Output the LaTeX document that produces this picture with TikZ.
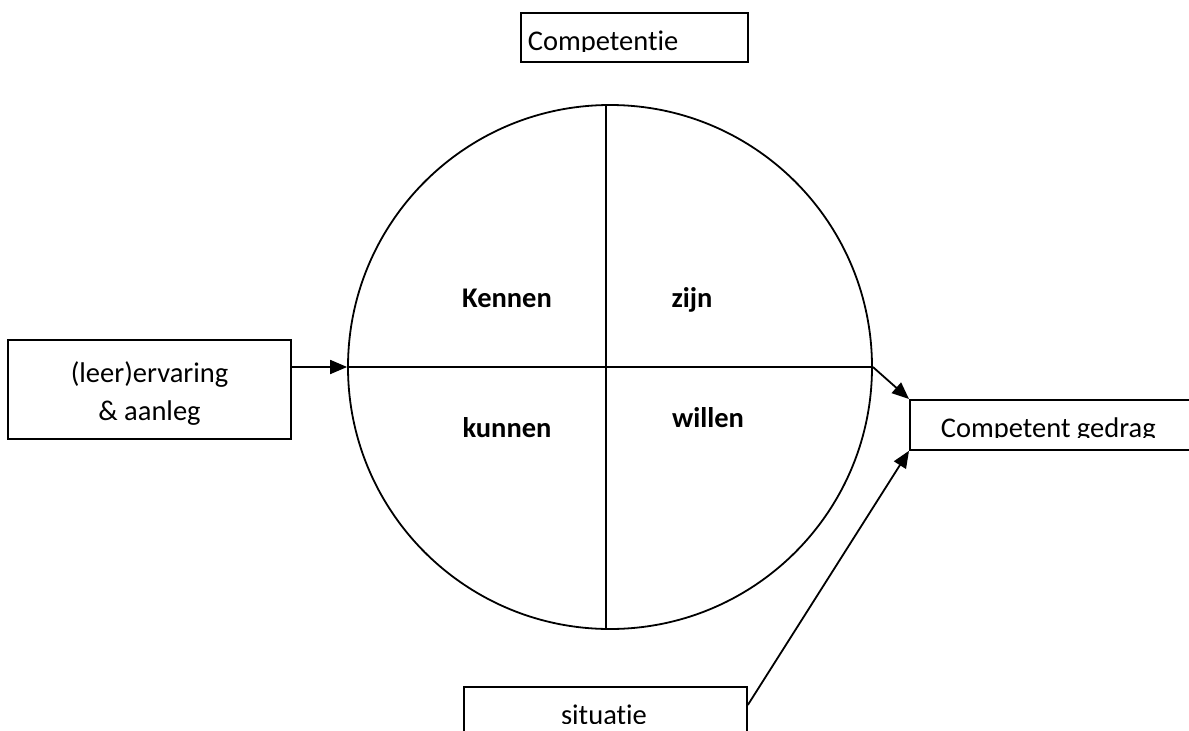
\documentclass[tikz,border=0pt]{standalone}
\usepackage{fontspec}
\setmainfont{Carlito}[Ligatures=NoCommon]
\usetikzlibrary{arrows.meta,calc}
\begin{document}
\begin{tikzpicture}[x=1pt,y=-1pt,
  line width=1.8pt,
  box/.style={draw=black,rectangle,inner sep=0pt,anchor=north west},
  txt/.style={inner sep=0pt,font=\fontsize{28.5}{35}\selectfont},
  lbl/.style={inner sep=0pt,anchor=base,font=\fontsize{28.5}{35}\selectfont\bfseries},
  arr/.style={-{Triangle[length=17pt,width=14pt]}}]
\useasboundingbox (0,0) rectangle (1189,731);
\clip (0,0) rectangle (1189,731);
% boxes
\node[box,minimum width=227pt,minimum height=49pt] (cbox) at (520,12) {};
\node[box,minimum width=283pt,minimum height=99pt] (lbox) at (7,339) {};
\node[box,minimum width=320pt,minimum height=50pt] (gbox) at (909,399) {};
\node[box,minimum width=283pt,minimum height=90pt] (sbox) at (463,686) {};
% clipped texts
\begin{scope}
\clip (520,12) rectangle (747,51);
\node[txt,anchor=base west] (ctxt) at (527,50) {Competentie};
\end{scope}
\begin{scope}
\clip (909,399) rectangle (1189,437.5);
\node[txt,anchor=base west] (gtxt) at (940,437.5) {Competent gedrag};
\end{scope}
\begin{scope}
\clip (463,686) rectangle (746,723);
\node[txt,anchor=base] (stxt) at (604,724) {situatie};
\end{scope}
\node[txt,anchor=base] (l1) at (149.5,382) {(leer)ervaring};
\node[txt,anchor=base] (l2) at (149.5,420) {\& aanleg};
% circle
\node[draw=black,circle,minimum size=524pt,inner sep=0pt] (c) at (610,367) {};
\coordinate (vt) at (606,106);
\coordinate (vb) at (606,628);
\draw (vt) -- (vb);
\draw (c.west) -- (c.east);
% labels
\node[lbl] (kennen) at (507,307) {Kennen};
\node[lbl] (zijn) at (692,307) {zijn};
\node[lbl] (kunnen) at (507,437) {kunnen};
\node[lbl] (willen) at (708,427) {willen};
% arrows
\draw[arr] (lbox.east |- c.west) -- (c.west);
\draw[arr] (c.east) -- (gbox.north west);
\coordinate (sstart) at ($(sbox.north east)+(0,19)$);
\draw[arr] (sstart) -- (gbox.south west);
\end{tikzpicture}
\end{document}
